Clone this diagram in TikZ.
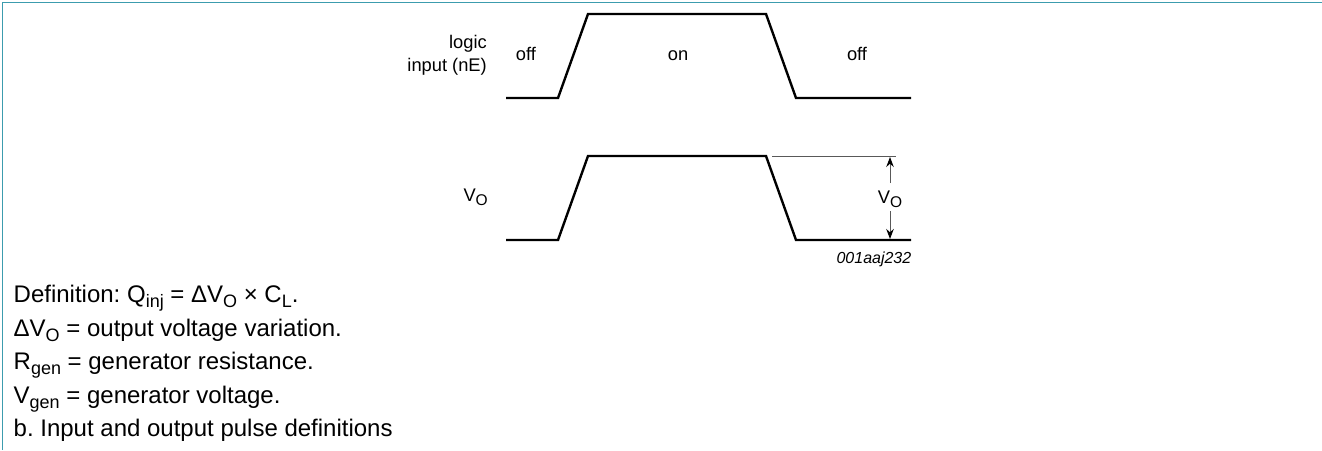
\documentclass[tikz,border=0pt]{standalone}
\usepackage{fontspec}
\setmainfont{Liberation Sans}
\usetikzlibrary{arrows.meta}
\frenchspacing
\definecolor{frameteal}{HTML}{3C9CAE}
\newcommand{\sbs}[1]{\raisebox{-5.3pt}{\fontsize{18}{20}\selectfont #1}}
\newcommand{\sbl}[1]{\raisebox{-4pt}{\fontsize{15.5}{17}\selectfont #1}}
\tikzset{
  wave/.style={line width=2.4pt,line join=miter},
  lbl/.style={inner sep=0pt,font=\fontsize{18.3}{21}\selectfont},
  body/.style={anchor=base west,inner sep=0pt,font=\fontsize{24}{28}\selectfont},
  dim/.style={line width=1pt,draw=black!65},
  dimarrow/.style={line width=1pt,draw=black!65,-{Stealth[length=10pt,width=7.5pt,black]}}
}
\begin{document}
\frenchspacing
\begin{tikzpicture}[x=1pt,y=-1pt]
\useasboundingbox (0,0) rectangle (1322,450);
\coordinate (fa) at (1322,2.5);
\coordinate (fb) at (2.5,2.5);
\coordinate (fc) at (2.5,450);
\draw[frameteal,line width=1.3pt] (fa) -- (fb) -- (fc);
\coordinate (a0) at (506,98); \coordinate (a1) at (558,98); \coordinate (a2) at (588,14);
\coordinate (a3) at (766,14); \coordinate (a4) at (796,98); \coordinate (a5) at (911,98);
\draw[wave] (a0) -- (a1) -- (a2) -- (a3) -- (a4) -- (a5);
\coordinate (b0) at (506,240); \coordinate (b1) at (558,240); \coordinate (b2) at (588,156);
\coordinate (b3) at (766,156); \coordinate (b4) at (796,240); \coordinate (b5) at (911,240);
\draw[wave] (b0) -- (b1) -- (b2) -- (b3) -- (b4) -- (b5);
\coordinate (t0) at (772,156); \coordinate (t1) at (896,156);
\draw[dim] (t0) -- (t1);
\node[lbl,anchor=base east] (login) at (487,48.5) {logic};
\node[lbl,anchor=base east] (login2) at (487,71) {input (nE)};
\node[lbl,anchor=base] (off1) at (526,60.5) {off};
\node[lbl,anchor=base] (on) at (678,60.5) {on};
\node[lbl,anchor=base] (off2) at (857,60.5) {off};
\node[lbl,anchor=base east] (vol) at (488,201.5) {V\sbl{O}};
\node[lbl,anchor=base] (vo) at (890,203) {V\sbl{O}};
\coordinate (au) at (890,157); \coordinate (ad) at (890,239);
\coordinate (as) at (890,183); \coordinate (ae) at (890,211);
\draw[dimarrow] (as) -- (au);
\draw[dimarrow] (ae) -- (ad);
\node[anchor=base east,inner sep=0pt,font=\fontsize{16}{18}\selectfont\itshape] (code) at (911.5,263.5) {001aaj232};
\node[body] (d1) at (13.5,302.5) {Definition: Q\sbs{inj} = ΔV\sbs{O} × C\sbs{L}.};
\node[body] (d2) at (13.5,336) {ΔV\sbs{O} = output voltage variation.};
\node[body] (d3) at (13.5,369.5) {R\sbs{gen} = generator resistance.};
\node[body] (d4) at (13.5,403) {V\sbs{gen} = generator voltage.};
\node[body] (d5) at (13.5,436.5) {b. Input and output pulse definitions};
\end{tikzpicture}
\end{document}
